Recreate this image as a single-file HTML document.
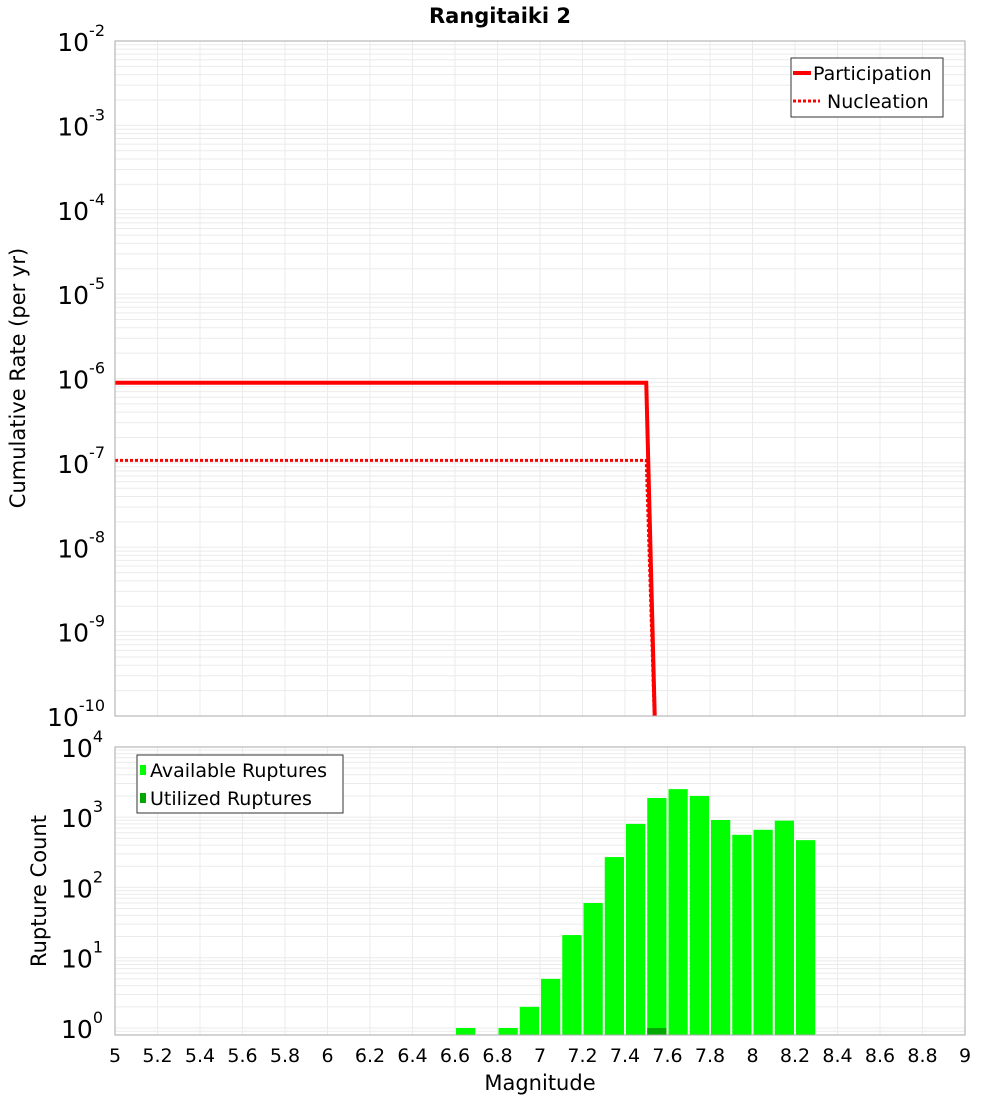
<!DOCTYPE html>
<html><head><meta charset="utf-8"><style>body{margin:0;background:#fff}svg{display:block;font-family:"DejaVu Sans","Liberation Sans",sans-serif}</style></head>
<body>
<svg id="c" width="1000" height="1100" xmlns="http://www.w3.org/2000/svg">
<text x="500" y="23" text-anchor="middle" font-size="21" font-weight="bold">Rangitaiki 2</text>
<g id="topPanel"></g>
<g id="botPanel"></g>
<text transform="translate(25,378) rotate(-90)" text-anchor="middle" font-size="21">Cumulative Rate (per yr)</text>
<text transform="translate(46,891) rotate(-90)" text-anchor="middle" font-size="21">Rupture Count</text>
<text x="540" y="1090" text-anchor="middle" font-size="21">Magnitude</text>
</svg>
<script>
const xTicks=[5,5.2,5.4,5.6,5.8,6,6.2,6.4,6.6,6.8,7,7.2,7.4,7.6,7.8,8,8.2,8.4,8.6,8.8,9];
const partMag=[5,7.5,7.55];
const partRate=[8.9e-7,8.9e-7,1e-11];
const nuclMag=[5,7.5,7.55];
const nuclRate=[1.07e-7,1.07e-7,1e-11];
const binMag=[6.6,6.7,6.8,6.9,7.0,7.1,7.2,7.3,7.4,7.5,7.6,7.7,7.8,7.9,8.0,8.1,8.2];
const availCount=[1,0,1,2,5,21,60,270,800,1870,2500,2000,910,560,660,890,470];
const usedCount=[0,0,0,0,0,0,0,0,0,1,0,0,0,0,0,0,0];
const rateExp=[-2,-3,-4,-5,-6,-7,-8,-9,-10];
const countExp=[4,3,2,1,0];

const NS='http://www.w3.org/2000/svg';
function mk(p,t,a){const e=document.createElementNS(NS,t);for(const k in a)e.setAttribute(k,a[k]);p.appendChild(e);return e;}
const L=115,R=965;
const X=m=>L+(m-5)/4*(R-L);
const TT=41,TB=716;
const Yt=v=>TT+(-2-Math.log10(v))*(TB-TT)/8;
const BT=747,BB=1035;
const Yb=v=>1028-Math.log10(v)*70.3;
const topG=document.getElementById('topPanel'),botG=document.getElementById('botPanel');

function grid(g,yt,yb,yf,lo,hi){
  for(let e=lo;e<hi;e++)for(let k=1;k<10;k++){const y=yf(k*Math.pow(10,e));if(y<yt||y>yb)continue;
    const l=mk(g,'line',{x1:L,x2:R,y1:y,y2:y,stroke:'#ebebeb','stroke-width':1});
    
    }
  xTicks.forEach(t=>{const l=mk(g,'line',{x1:X(t),x2:X(t),y1:yt,y2:yb,stroke:'#ebebeb','stroke-width':1});
    
    });
}
grid(topG,TT,TB,Yt,-11,-2);
grid(botG,BT,BB,Yb,-1,4);

rateExp.forEach(e=>{const y=Yt(Math.pow(10,e));
  const t=mk(topG,'text',{x:105,y:y+10,'text-anchor':'end','font-size':25});
  
  
  t.textContent='10';const s=mk(t,'tspan',{dy:-15,'font-size':16});s.textContent=String(e);});
countExp.forEach(e=>{const y=Yb(Math.pow(10,e));
  const t=mk(botG,'text',{x:103,y:y+10,'text-anchor':'end','font-size':25});
  
  
  t.textContent='10';const s=mk(t,'tspan',{dy:-15,'font-size':16});s.textContent=String(e);});

const clipB=mk(botG,'clipPath',{id:'cb'});mk(clipB,'rect',{x:L,y:BT,width:R-L,height:BB-BT});
const bg=mk(botG,'g',{'clip-path':'url(#cb)'});
binMag.forEach((m,i)=>{const v=availCount[i];if(v>0){const y=Yb(v);
  const r=mk(bg,'rect',{x:X(m)+1,y:y,width:X(m+0.1)-X(m)-2,height:BB-y,fill:'#00ff00'});
  
  }
  const u=usedCount[i];if(u>0){const y=Yb(u);
  const r=mk(bg,'rect',{x:X(m)+1,y:y,width:X(m+0.1)-X(m)-2,height:BB-y,fill:'#00a800'});
  
  }});

const clipT=mk(topG,'clipPath',{id:'ct'});mk(clipT,'rect',{x:L,y:TT,width:R-L,height:TB-TT});
function line(ms,vs,dash,name){const p=ms.map((m,i)=>X(m)+','+Yt(vs[i])).join(' ');
  const a={points:p,fill:'none',stroke:'#ff0000','stroke-width':dash?3:4,'clip-path':'url(#ct)'};if(dash)a['stroke-dasharray']='3,2';
  const l=mk(topG,'polyline',a);
  
  }
line(partMag,partRate,false,'participation-line');
line(nuclMag,nuclRate,true,'nucleation-line');

[[TT,TB,topG],[BT,BB,botG]].forEach(([a,b,g])=>{const r=mk(g,'rect',{x:L,y:a,width:R-L,height:b-a,fill:'none',stroke:'#aaaaaa','stroke-width':1});
  
  });

xTicks.forEach(t=>{const e=mk(botG,'text',{x:X(t),y:1062,'text-anchor':'middle','font-size':19});
  
  
  e.textContent=String(t);});

const lg=mk(topG,'g',{});


mk(lg,'rect',{x:791,y:58,width:152,height:59,fill:'#fff',stroke:'#333','stroke-width':1});
mk(lg,'line',{x1:793,x2:811,y1:73,y2:73,stroke:'#f00','stroke-width':4});
mk(lg,'line',{x1:793,x2:820,y1:101,y2:101,stroke:'#f00','stroke-width':3,'stroke-dasharray':'3,2'});
let t=mk(lg,'text',{x:813,y:80,'font-size':19});t.textContent='Participation';
t=mk(lg,'text',{x:827,y:108,'font-size':19});t.textContent='Nucleation';
const lb=mk(botG,'g',{});


mk(lb,'rect',{x:137,y:755,width:206,height:58,fill:'#fff',stroke:'#333','stroke-width':1});
mk(lb,'rect',{x:140,y:765,width:6,height:10,fill:'#00ff00'});
mk(lb,'rect',{x:140,y:793,width:6,height:10,fill:'#00a800'});
t=mk(lb,'text',{x:150,y:777,'font-size':19});t.textContent='Available Ruptures';
t=mk(lb,'text',{x:150,y:805,'font-size':19});t.textContent='Utilized Ruptures';
</script>
</body></html>
